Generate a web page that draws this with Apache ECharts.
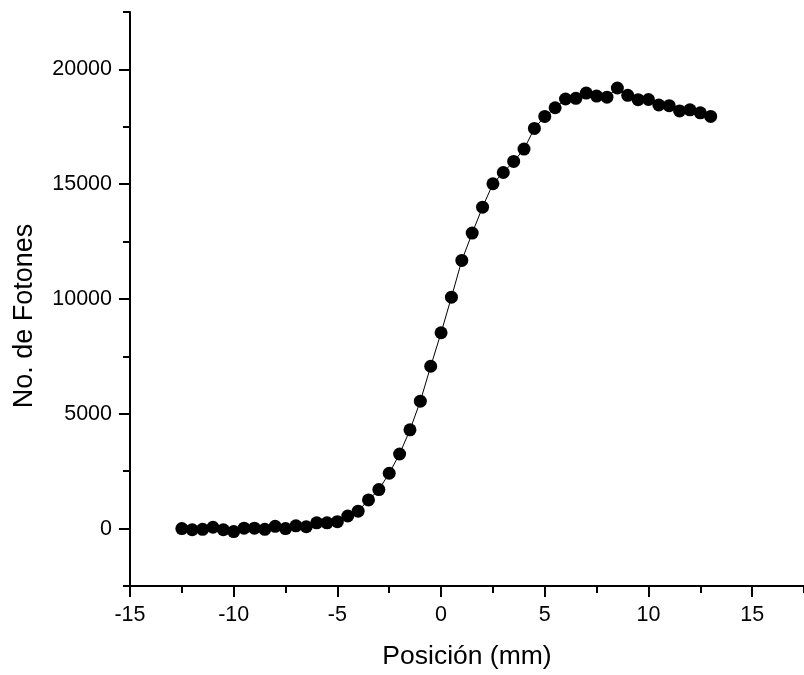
<!DOCTYPE html>
<html>
<head>
<meta charset="utf-8">
<script src="https://cdn.jsdelivr.net/npm/echarts@6/dist/echarts.min.js"></script>
<style>
html,body{margin:0;padding:0;background:#fff;}
#chart{width:804px;height:675px;}
</style>
</head>
<body>
<div id="chart"></div>
<script>
var positions = [-12.5,-12,-11.5,-11,-10.5,-10,-9.5,-9,-8.5,-8,-7.5,-7,-6.5,-6,-5.5,-5,-4.5,-4,-3.5,-3,-2.5,-2,-1.5,-1,-0.5,0,0.5,1,1.5,2,2.5,3,3.5,4,4.5,5,5.5,6,6.5,7,7.5,8,8.5,9,9.5,10,10.5,11,11.5,12,12.5,13];
var photons = [0,-50,-30,60,-50,-130,20,20,-30,100,0,120,80,250,250,300,550,760,1250,1700,2410,3250,4300,5550,7070,8530,10080,11680,12870,14000,15020,15510,15990,16530,17430,17950,18330,18710,18740,18970,18840,18790,19190,18870,18680,18690,18450,18420,18190,18240,18110,17950];
var xMajorTicks = [-15,-10,-5,0,5,10,15];
var xMinorTicks = [-12.5,-7.5,-2.5,2.5,7.5,12.5,17.5];
var yMajorTicks = [0,5000,10000,15000,20000];
var yMinorTicks = [-2500,2500,7500,12500,17500,22500];
var xTitle = 'Posición (mm)';
var yTitle = 'No. de Fotones';

var FONT = 'Arial, "Liberation Sans", sans-serif';
var chart = echarts.init(document.getElementById('chart'), null, {renderer:'canvas'});
var lineStyle = {color:'#000', width:2};
function plain(v){ return String(v); }
var option = {
  animation:false,
  backgroundColor:'#fff',
  grid:{left:130, right:-5, top:12, bottom:89, containLabel:false},
  xAxis:[{
    type:'value', min:-15, max:17.5, position:'bottom',
    axisLine:{show:true, onZero:false, lineStyle:lineStyle},
    axisTick:{show:true, inside:false, length:11, customValues:xMajorTicks, lineStyle:{color:'#000', width:2}},
    axisLabel:{show:true, customValues:xMajorTicks, formatter:plain, margin:18, color:'#000', fontSize:21.5, fontFamily:FONT},
    splitLine:{show:false},
    name:xTitle, nameLocation:'middle', nameGap:57,
    nameTextStyle:{color:'#000', fontSize:26.5, fontFamily:FONT}
  },{
    type:'value', min:-15, max:17.5, position:'bottom',
    axisLine:{show:false, onZero:false},
    axisTick:{show:true, inside:false, length:7, customValues:xMinorTicks, lineStyle:{color:'#000', width:2}},
    axisLabel:{show:false},
    splitLine:{show:false}
  }],
  yAxis:[{
    type:'value', min:-2500, max:22500, position:'left',
    axisLine:{show:true, onZero:false, lineStyle:lineStyle},
    axisTick:{show:true, inside:false, length:11, customValues:yMajorTicks, lineStyle:{color:'#000', width:2}},
    axisLabel:{show:true, customValues:yMajorTicks, formatter:plain, margin:18, color:'#000', fontSize:21.5, fontFamily:FONT},
    splitLine:{show:false},
    name:yTitle, nameLocation:'middle', nameGap:92, nameRotate:90,
    nameTextStyle:{color:'#000', fontSize:27, fontFamily:FONT, padding:[0,34,0,0]}
  },{
    type:'value', min:-2500, max:22500, position:'left',
    axisLine:{show:false, onZero:false},
    axisTick:{show:true, inside:false, length:7, customValues:yMinorTicks, lineStyle:{color:'#000', width:2}},
    axisLabel:{show:false},
    splitLine:{show:false}
  }],
  series:[{
    type:'line',
    xAxisIndex:0, yAxisIndex:0,
    data: positions.map(function(p,i){return [p, photons[i]];}),
    symbol:'circle', symbolSize:13,
    itemStyle:{color:'#000'},
    lineStyle:{color:'#000', width:1},
    clip:false
  }]
};
chart.setOption(option);
</script>
</body>
</html>
